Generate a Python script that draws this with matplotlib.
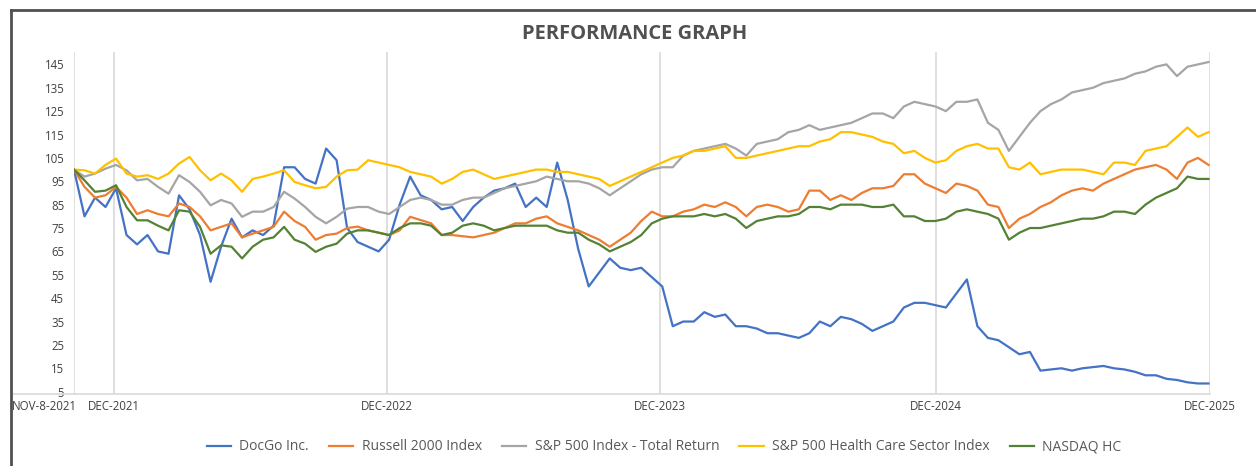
import pandas as pd
import matplotlib.pyplot as plt
from matplotlib.lines import Line2D
from matplotlib.transforms import ScaledTranslation

plt.rcParams['font.family'] = ['Open Sans', 'DejaVu Sans']

# biweekly closes, indexed to 100 on Nov-8-2021
dates = pd.date_range('2021-11-08', periods=109, freq='14D')

docgo = [100, 80, 88, 84, 92, 72, 68, 72, 65, 64,
         89, 83, 72, 52, 67, 79, 71, 74, 72, 76,
         101, 101, 96, 94, 109, 104, 75, 69, 67, 65,
         70, 85, 97, 89, 87, 83, 84, 78, 84, 88,
         91, 92, 94, 84, 88, 84, 103, 87, 66, 50,
         56, 62, 58, 57, 58, 54, 50, 33, 35, 35,
         39, 37, 38, 33, 33, 32, 30, 30, 29, 28,
         30, 35, 33, 37, 36, 34, 31, 33, 35, 41,
         43, 43, 42, 41, 47, 53, 33, 28, 27, 24,
         21, 22, 14, 14.5, 15, 14, 15, 15.5, 16, 15,
         14.5, 13.5, 12, 12, 10.5, 10, 9, 8.5, 8.5]

russell = [100, 92.6, 88, 89, 92.6, 88, 81, 82.6, 81, 80,
           85.5, 84, 80, 74, 75.5, 77, 71, 72.6, 74, 75.5,
           82, 78, 75.5, 70, 72, 72.6, 75, 75.6, 74, 73,
           72, 74, 79.8, 78.4, 77, 72, 72, 71.5, 71, 72,
           73, 75, 77, 77, 79, 80, 77, 75.5, 74, 72,
           70, 67, 70, 73, 78, 82, 80, 80, 82, 83,
           85, 84, 86, 84, 80, 84, 85, 84, 82, 83,
           91, 91, 87, 89, 87, 90, 92, 92, 93, 98,
           98, 94, 92, 90, 94, 93, 91, 85, 84, 75,
           79, 81, 84, 86, 89, 91, 92, 91, 94, 96,
           98, 100, 101, 102, 100, 96, 103, 105, 102]

sp500 = [100, 97, 98.3, 100.4, 102, 99.7, 95.4, 96, 92.6, 89.7,
         97.6, 94.7, 90.5, 84.7, 87, 85.5, 79.8, 82, 82, 84,
         90.5, 87.6, 84, 79.8, 77, 79.8, 83.3, 84, 84, 82,
         81, 84, 87, 88, 87, 85, 85, 87, 88, 88,
         90, 92, 93, 94, 95, 97, 96, 95, 95, 94,
         92, 89, 92, 95, 98, 100, 101, 101, 106, 108,
         109, 110, 111, 109, 106, 111, 112, 113, 116, 117,
         119, 117, 118, 119, 120, 122, 124, 124, 122, 127,
         129, 128, 127, 125, 129, 129, 130, 120, 117, 108,
         114, 120, 125, 128, 130, 133, 134, 135, 137, 138,
         139, 141, 142, 144, 145, 140, 144, 145, 146]

sp_hc = [100, 99.7, 98.3, 102, 104.7, 98.3, 97, 97.6, 96, 98.3,
         102.6, 105.4, 99.7, 95.4, 98.3, 95.4, 90.5, 96, 97, 98.3,
         99.7, 94.7, 93.3, 92, 92.6, 97, 99.7, 100, 104, 103,
         102, 101, 99, 98, 97, 94, 96, 99, 100, 98,
         96, 97, 98, 99, 100, 100, 99, 99, 98, 97,
         96, 93, 95, 97, 99, 101, 103, 105, 106, 108,
         108, 109, 110, 105, 105, 106, 107, 108, 109, 110,
         110, 112, 113, 116, 116, 115, 114, 112, 111, 107,
         108, 105, 103, 104, 108, 110, 111, 109, 109, 101,
         100, 103, 98, 99, 100, 100, 100, 99, 98, 103,
         103, 102, 108, 109, 110, 114, 118, 114, 116]

nasdaq_hc = [100, 95.4, 90.5, 91, 93.3, 84, 78.3, 78.3, 76, 74,
             82.6, 82, 75.5, 64, 67.6, 67, 62, 67, 70, 71,
             75.5, 70, 68.3, 64.8, 67, 68.3, 72.6, 74, 74, 73,
             72, 75, 77, 77, 76, 72, 73, 76, 77, 76,
             74, 75, 76, 76, 76, 76, 74, 73, 73, 70,
             68, 65, 67, 69, 72, 77, 79, 80, 80, 80,
             81, 80, 81, 79, 75, 78, 79, 80, 80, 81,
             84, 84, 83, 85, 85, 85, 84, 84, 85, 80,
             80, 78, 78, 79, 82, 83, 82, 81, 79, 70,
             73, 75, 75, 76, 77, 78, 79, 79, 80, 82,
             82, 81, 85, 88, 90, 92, 97, 96, 96]

names = ['DocGo Inc.', 'Russell 2000 Index', 'S&P 500 Index - Total Return',
         'S&P 500 Health Care Sector Index', 'NASDAQ HC']
colors = ['#4472C4', '#ED7D31', '#A5A5A5', '#FFC000', '#548235']

tick_dates = pd.to_datetime(['2021-11-08', '2021-12-31', '2022-12-30',
                             '2023-12-29', '2024-12-31', '2025-12-31'])
tick_labels = ['NOV-8-2021', 'DEC-2021', 'DEC-2022', 'DEC-2023', 'DEC-2024', 'DEC-2025']
yticks = list(range(5, 150, 10))

W, H = 1256, 466
fig = plt.figure(figsize=(W / 100, H / 100), dpi=100)
ax = fig.add_axes([74 / W, 72 / H, (1210 - 74) / W, (394 - 52) / H])

series = [docgo, russell, sp500, sp_hc, nasdaq_hc]
for vals, name, c in zip(series, names, colors):
    ax.plot(dates, vals, color=c, lw=1.6, label=name)

ax.set_xlim(tick_dates[0], tick_dates[-1])
ax.set_ylim(4, 150.3)
ax.set_yticks(yticks)
ax.set_xticks(tick_dates)
ax.set_xticklabels(tick_labels)
ax.tick_params(axis='both', length=0, labelsize=8.3, labelcolor='#404040')
ax.tick_params(axis='y', pad=7)
ax.tick_params(axis='x', pad=4.5)
for s in ax.spines.values():
    s.set_visible(False)
ax.grid(axis='x', color='#D9D9D9', lw=1.2)
ax.set_axisbelow(True)

first = ax.get_xticklabels()[0]
first.set_ha('right')
first.set_transform(first.get_transform() + ScaledTranslation(3 / 100, 0, fig.dpi_scale_trans))

# bottom axis line runs out to the frame
fig.add_artist(Line2D([12 / W, 1210 / W], [72 / H, 72 / H], color='#D9D9D9', lw=1.2))

# outer frame (left and top edges)
fig.add_artist(Line2D([10.5 / W, 10.5 / W], [0, 1 - 10 / H], color='#505050', lw=2))
fig.add_artist(Line2D([10.5 / W, 1], [1 - 10 / H, 1 - 10 / H], color='#505050', lw=2))

fig.text(635 / W, 1 - 34 / H, 'PERFORMANCE GRAPH', ha='center', va='center',
         fontsize=14.5, fontweight='bold', color='#505050')

fig.legend(loc='center', bbox_to_anchor=(664 / W, 1 - 447 / H), ncol=5, frameon=False,
           fontsize=10, labelcolor='#595959', handlelength=1.75, handletextpad=0.6,
           columnspacing=1.45)

fig.savefig('out.png', dpi=100)
